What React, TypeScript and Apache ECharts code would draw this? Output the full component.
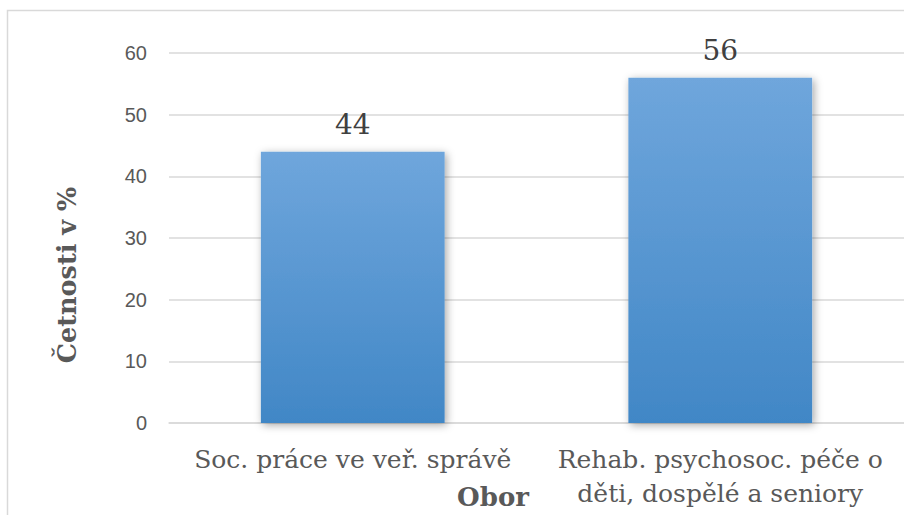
import React, { useEffect, useRef } from "react";
import * as echarts from "echarts";

const categories = [
  "Soc. práce ve veř. správě",
  "Rehab. psychosoc. péče o\nděti, dospělé a seniory",
];
const values = [44, 56];
const yTicks = { min: 0, max: 60, interval: 10 };
const yTitle = "Četnosti v %";
const xTitle = "Obor";

const SERIF = "DejaVu Serif";
const SANS = "Liberation Sans";

export default function App() {
  const ref = useRef<HTMLDivElement>(null);
  useEffect(() => {
    if (!ref.current) return;
    const chart = echarts.init(ref.current, undefined, { renderer: "svg" });
    chart.setOption({
      animation: false,
      backgroundColor: "#ffffff",
      grid: { left: 169, right: 0, top: 53, bottom: 92 },
      xAxis: {
        type: "category",
        data: categories,
        axisLine: { lineStyle: { color: "#d9d9d9", width: 1.5 } },
        axisTick: { show: false },
        axisLabel: {
          interval: 0,
          margin: 19,
          fontFamily: SERIF,
          fontSize: 25,
          lineHeight: 34,
          color: "#595959",
        },
      },
      yAxis: {
        type: "value",
        min: yTicks.min,
        max: yTicks.max,
        interval: yTicks.interval,
        axisLine: { show: false },
        axisTick: { show: false },
        splitLine: { lineStyle: { color: "#d9d9d9", width: 1.5 } },
        axisLabel: {
          margin: 22,
          fontFamily: SANS,
          fontSize: 20,
          color: "#595959",
        },
      },
      series: [
        {
          type: "bar",
          data: values,
          barWidth: "50%",
          itemStyle: {
            color: new echarts.graphic.LinearGradient(0, 0, 0, 1, [
              { offset: 0, color: "#6fa6dc" },
              { offset: 1, color: "#4187c6" },
            ]),
            shadowColor: "rgba(0,0,0,0.35)",
            shadowBlur: 8,
            shadowOffsetX: 2,
            shadowOffsetY: 2,
          },
          label: {
            show: true,
            position: "top",
            distance: 13,
            fontFamily: SERIF,
            fontSize: 28,
            color: "#404040",
          },
        },
      ],
      graphic: [
        {
          type: "rect",
          shape: { x: 7.5, y: 10.5, width: 1000, height: 700 },
          style: { fill: "none", stroke: "#d9d9d9", lineWidth: 1.5 },
          silent: true,
        },
        {
          type: "text",
          x: 67,
          y: 275,
          rotation: Math.PI / 2,
          style: {
            text: yTitle,
            fontFamily: SERIF,
            fontWeight: "bold",
            fontSize: 25.5,
            fill: "#595959",
            align: "center",
            verticalAlign: "middle",
          },
        },
        {
          type: "text",
          x: 493,
          y: 497,
          style: {
            text: xTitle,
            fontFamily: SERIF,
            fontWeight: "bold",
            fontSize: 26,
            fill: "#595959",
            align: "center",
            verticalAlign: "middle",
          },
        },
      ],
    });
    return () => chart.dispose();
  }, []);
  return (
    <div
      ref={ref}
      style={{ position: "fixed", left: 0, top: 0, width: 904, height: 515 }}
    />
  );
}
